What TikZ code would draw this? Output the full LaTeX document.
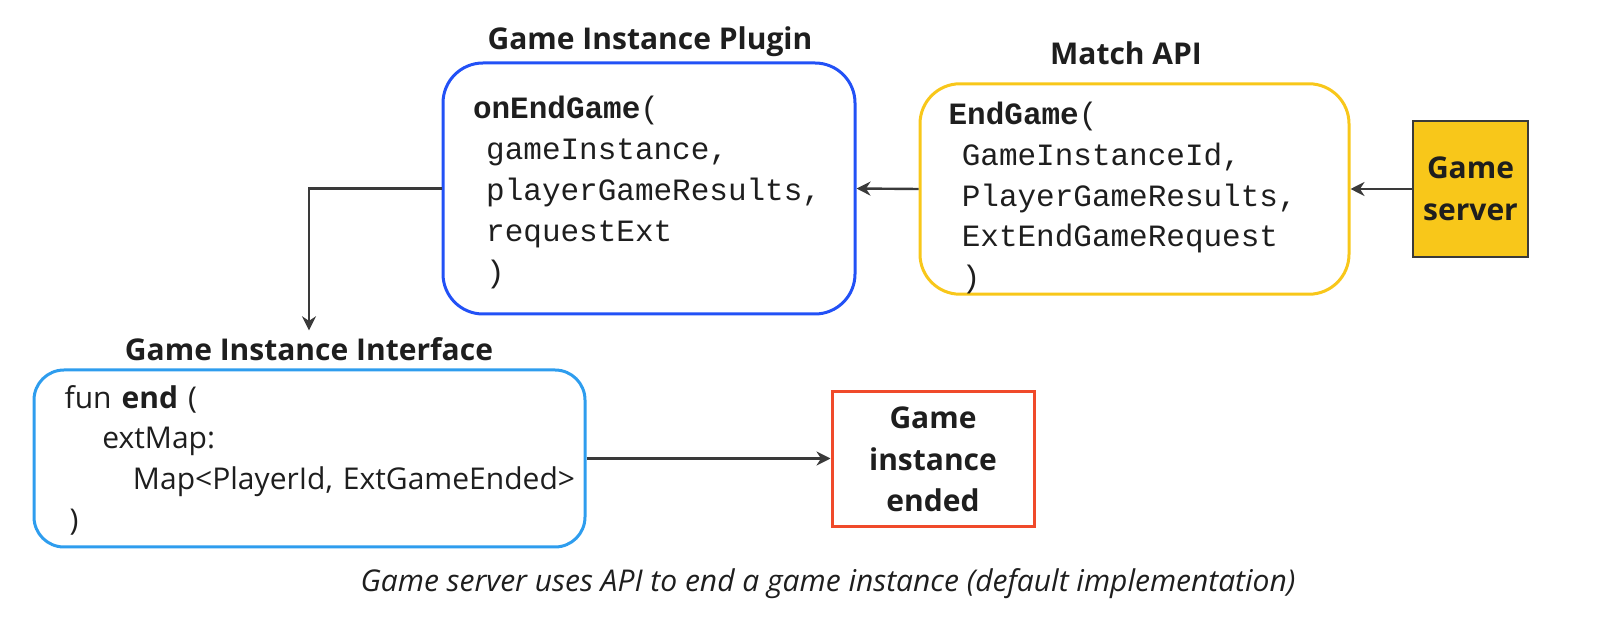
\documentclass[tikz,border=0pt]{standalone}
\usepackage{fontspec}
\setmainfont{Open Sans}
\setmonofont{Liberation Mono}
\usetikzlibrary{arrows.meta, positioning}

\definecolor{pluginblue}{HTML}{2251F6}
\definecolor{apiyellow}{HTML}{F8C71A}
\definecolor{ifaceblue}{HTML}{2E9DEE}
\definecolor{endred}{HTML}{F04A2A}
\definecolor{linegray}{HTML}{3A3A3A}
\definecolor{textdark}{HTML}{1E1E1E}

\tikzset{
  codebox/.style={draw, line width=1.5pt, rounded corners=20pt, align=left, inner ysep=0pt,
    text=textdark, font=\fontsize{15.5}{20.4}\selectfont\ttfamily},
  boxtitle/.style={text=textdark, font=\fontsize{15}{18}\selectfont\bfseries},
  plainbox/.style={draw, line width=1.5pt, align=center, inner sep=0pt, text=textdark,
    font=\fontsize{15}{20.8}\selectfont\bfseries},
  arr/.style={-{Stealth[length=7pt,width=7pt]}, line width=1.2pt, draw=linegray},
}

\begin{document}
\begin{tikzpicture}[x=0.5pt, y=-0.5pt]
\useasboundingbox (0,0) rectangle (1600,624);

% boxes
\node[codebox, draw=pluginblue, text width=176pt, inner xsep=15pt, minimum height=125.5pt] (plugin) at (649,188.5)
  {\par\vspace*{-2.6pt}\textbf{onEndGame}(\\
   \hspace*{6.6pt}gameInstance,\\
   \hspace*{6.6pt}playerGameResults,\\
   \hspace*{6.6pt}requestExt\\
   \hspace*{6.6pt})\par\vspace*{2.6pt}};
\node[boxtitle] (plugintitle) at (650,42) {Game Instance Plugin};

\node[codebox, draw=apiyellow, text width=185.9pt, inner xsep=14.3pt, minimum height=105pt] (match) at (1134.5,189)
  {\par\textbf{EndGame}(\\
   \hspace*{6.6pt}GameInstanceId,\\
   \hspace*{6.6pt}PlayerGameResults,\\
   \hspace*{6.6pt}ExtEndGameRequest\\
   \hspace*{6.6pt})};
\node[boxtitle] (matchtitle) at (1126,53) {Match API};

\node[plainbox, draw=linegray, line width=0.8pt, fill=apiyellow, minimum width=57.5pt, minimum height=68pt] (server) at (1470.5,189)
  {Game\\server};

\node[codebox, draw=ifaceblue, rounded corners=15pt, text width=260.3pt, inner xsep=7.6pt, minimum height=88.5pt,
  font=\fontsize{15}{20.4}\selectfont] (iface) at (309.5,458.5)
  {\par\vspace*{-3.6pt}\hspace*{7.7pt}fun \textbf{end} (\\
   \hspace*{26.6pt}extMap:\\
   \hspace*{41.9pt}\mbox{Map<PlayerId, ExtGameEnded>}\\
   \hspace*{10.2pt})\par\vspace*{3.6pt}};
\node[boxtitle] (ifacetitle) at (309,349) {Game Instance Interface};

\node[plainbox, draw=endred, minimum width=101pt, minimum height=67.5pt] (ended) at (933,459.5)
  {Game\\instance\\ended};

% connectors
\draw[arr] (server.west) -- (match.east);
\draw[arr] (match.west) -- (plugin.east);
\draw[arr] (plugin.west) -| (ifacetitle.north);
\draw[arr] (iface.east) -- (iface.east -| ended.west);

\node[text=textdark, font=\fontsize{15}{18}\selectfont\itshape] (caption) at (828,584)
  {Game server uses API to end a game instance (default implementation)};
\end{tikzpicture}
\end{document}
